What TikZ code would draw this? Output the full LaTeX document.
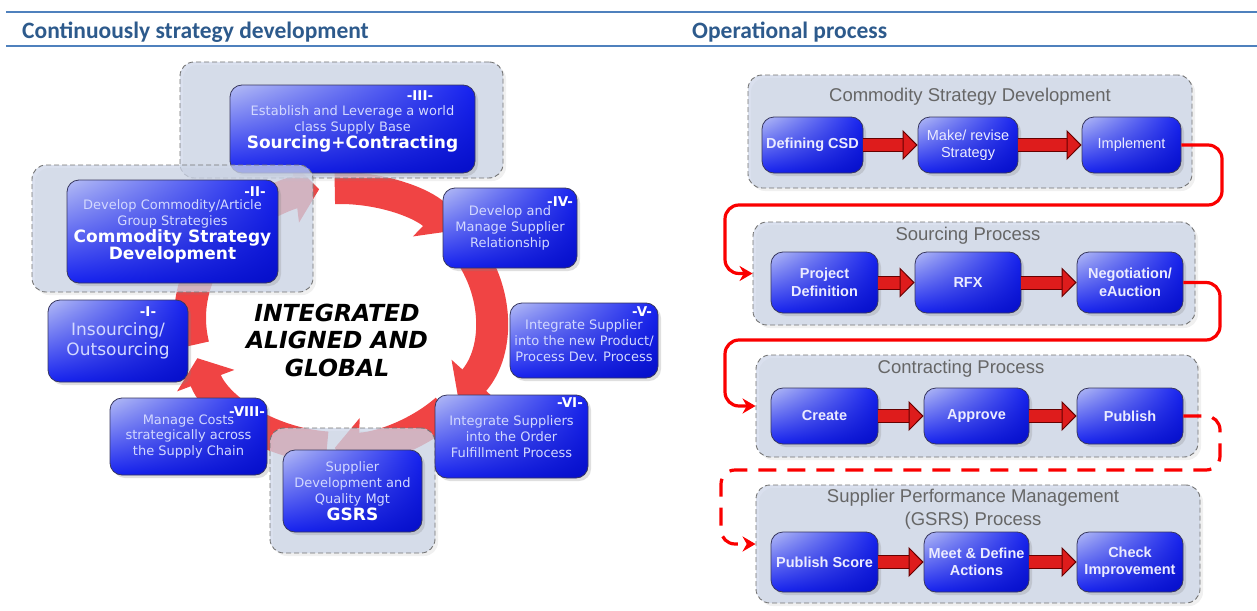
\documentclass[tikz,border=0pt]{standalone}
\usepackage{fontspec}
\usepackage{xcolor}
\usetikzlibrary{arrows.meta,shadows,shadings,calc}
\setmainfont{DejaVu Sans}
\newfontfamily\hdfont{Carlito}
\newfontfamily\arl{Liberation Sans}
\definecolor{hdblue}{RGB}{79,129,189}
\definecolor{hdtext}{RGB}{45,90,140}
\definecolor{ringred}{RGB}{240,68,68}
\definecolor{grpfill}{RGB}{205,214,232}
\definecolor{bxlight}{RGB}{180,188,245}
\definecolor{bxblue}{RGB}{22,34,240}
\definecolor{bxdark}{RGB}{5,14,200}
\definecolor{bxedge}{RGB}{55,55,95}
\definecolor{txlight}{RGB}{210,216,255}
\definecolor{flowred}{RGB}{222,28,28}
\definecolor{linkred}{RGB}{250,0,0}
\newcommand\boxsm{\fontsize{13}{15.8}\selectfont}
\newcommand\boxbig{\fontsize{17}{20}\selectfont\bfseries\color{white}}

\tikzset{
  hdrule/.style={draw=hdblue, line width=2.2pt},
  hd/.style={anchor=base west, inner sep=0pt, text=hdtext,
    font=\hdfont\bfseries\fontsize{23.5}{26}\selectfont},
  ring/.style={draw=ringred, line width=32pt,
    -{Triangle[length=24pt,width=60pt]}},
  grp/.style={rounded corners=14pt, draw=black!55, dash pattern=on 5pt off 3pt,
    line width=0.9pt, fill=grpfill, fill opacity=0.75,
    drop shadow={shadow xshift=3pt, shadow yshift=-3pt, opacity=0.12}},
  cbox/.style={rounded corners=12pt, draw=bxedge, line width=0.8pt,
    shade, upper left=bxlight, upper right=bxblue, lower left=bxblue, lower right=bxdark,
    drop shadow={shadow xshift=3pt, shadow yshift=-3pt, opacity=0.25},
    text=txlight, align=center, inner sep=2pt, font=\boxsm},
  numtag/.style={text=white, font=\bfseries\fontsize{13.5}{15}\selectfont, inner sep=0pt},
  gtitle/.style={text=black!60, font=\arl\fontsize{18.5}{23}\selectfont, align=center, inner sep=0pt},
  pbox/.style={cbox, minimum height=56pt, text=white!92!blue,
    font=\arl\fontsize{14.5}{17.5}\selectfont},
  flow/.style={draw=flowred, line width=12pt,
    -{Triangle[length=15pt,width=30pt,line width=1pt,color=red!40!black,fill=flowred]},
    preaction={draw=red!40!black, line width=14pt, arrows=-, shorten >=14pt}},
  link/.style={draw=linkred, line width=3.2pt, rounded corners=14pt,
    -{Stealth[length=13pt,width=15pt]}}
}

\begin{document}
\begin{tikzpicture}[x=1pt,y=-1pt]
  \useasboundingbox (0,0) rectangle (1257,610);
  \draw[hdrule] (6,12) -- (1257,12);
  \draw[hdrule] (6,46) -- (1257,46);
  \node[hd] (hleft) at (22,38) {Continuously strategy development};
  \node[hd] (hright) at (692,38) {Operational process};

  \coordinate (mid) at (340,318);
  \draw[ring] ($(mid)+(95:150 and 130)$) arc[start angle=95,end angle=162,x radius=150,y radius=130];
  \draw[ring] ($(mid)+(168:150 and 130)$) arc[start angle=168,end angle=262,x radius=150,y radius=130];
  \draw[ring] ($(mid)+(268:150 and 130)$) arc[start angle=268,end angle=318,x radius=150,y radius=130];
  \draw[ring] ($(mid)+(322:150 and 130)$) arc[start angle=322,end angle=398,x radius=150,y radius=130];
  \draw[ring] ($(mid)+(45:150 and 130)$) arc[start angle=45,end angle=92,x radius=150,y radius=130];

  \node[font=\bfseries\itshape\fontsize{23.5}{27.5}\selectfont, align=center] (goal) at (337,340)
    {INTEGRATED\\ALIGNED AND\\GLOBAL};

  \node[grp, minimum width=323pt, minimum height=116pt] (g3) at (341.5,120) {};
  \node[cbox, minimum width=245pt, minimum height=88pt] (b3) at (352.5,129)
    {Establish and Leverage a world\\class Supply Base\\[1pt]\boxbig Sourcing+Contracting};
  \node[grp, minimum width=281pt, minimum height=127pt] (g2) at (172.5,228.5) {};
  \node[cbox, minimum width=211pt, minimum height=103pt] (b2) at (172.5,231.5)
    {Develop Commodity/Article\\Group Strategies\\[1pt]\boxbig Commodity Strategy\\\boxbig Development};
  \node[grp, minimum width=165pt, minimum height=125pt] (g7) at (352.5,490.5) {};
  \node[cbox, minimum width=139pt, minimum height=82pt] (b7) at (352.5,491)
    {Supplier\\Development and\\Quality Mgt\\[1pt]\boxbig GSRS};
  \node[cbox, minimum width=134pt, minimum height=80pt] (b4) at (510,228)
    {Develop and\\Manage Supplier\\Relationship};
  \node[cbox, minimum width=148pt, minimum height=75pt] (b5) at (584,340.5)
    {Integrate Supplier\\into the new Product/\\Process Dev. Process};
  \node[cbox, minimum width=153pt, minimum height=83pt] (b6) at (511.5,436.5)
    {Integrate Suppliers\\into the Order\\Fulfillment Process};
  \node[cbox, minimum width=157pt, minimum height=77pt] (b8) at (188.5,436.5)
    {Manage Costs\\strategically across\\the Supply Chain};
  \node[cbox, minimum width=140pt, minimum height=82pt, font=\fontsize{17}{20.5}\selectfont] (b1) at (118,341)
    {Insourcing/\\Outsourcing};

  \node[numtag] (t1) at (148,312) {-I-};
  \node[numtag] (t2) at (255,192) {-II-};
  \node[numtag] (t3) at (420,96) {-III-};
  \node[numtag] (t4) at (560,202) {-IV-};
  \node[numtag] (t5) at (642,312) {-V-};
  \node[numtag] (t6) at (570,403) {-VI-};
  \node[numtag] (t8) at (247,412) {-VIII-};

  \node[grp, minimum width=444pt, minimum height=113pt] (g10) at (970,131.5) {};
  \node[gtitle] (h10) at (970,97) {Commodity Strategy Development};
  \node[pbox, minimum width=101pt] (p1) at (812.5,145) {\bfseries Defining CSD};
  \node[pbox, minimum width=100pt] (p2) at (968,145) {Make/ revise\\Strategy};
  \node[pbox, minimum width=99pt] (p3) at (1131.5,145) {Implement};
  \draw[flow] (p1) -- (p2);
  \draw[flow] (p2) -- (p3);

  \node[grp, minimum width=442pt, minimum height=103pt] (g20) at (974,273.5) {};
  \node[gtitle] (h20) at (968,236) {Sourcing Process};
  \node[pbox, minimum width=107pt, minimum height=61pt] (p4) at (824.5,282.5) {\bfseries Project\\\bfseries Definition};
  \node[pbox, minimum width=106pt, minimum height=61pt] (p5) at (968,282.5) {\bfseries RFX};
  \node[pbox, minimum width=106pt, minimum height=61pt] (p6) at (1130,282.5) {\bfseries Negotiation/\\\bfseries eAuction};
  \draw[flow] (p4) -- (p5);
  \draw[flow] (p5) -- (p6);

  \node[grp, minimum width=442pt, minimum height=102pt] (g30) at (977,406) {};
  \node[gtitle] (h30) at (961,369) {Contracting Process};
  \node[pbox, minimum width=107pt] (p7) at (824.5,416) {\bfseries Create};
  \node[pbox, minimum width=105pt] (p8) at (976.5,416) {\bfseries Approve};
  \node[pbox, minimum width=106pt] (p9) at (1130,416) {\bfseries Publish};
  \draw[flow] (p7) -- (p8);
  \draw[flow] (p8) -- (p9);

  \node[grp, minimum width=444pt, minimum height=118pt] (g40) at (978,544) {};
  \node[gtitle] (h40) at (973,509) {Supplier Performance Management\\(GSRS) Process};
  \node[pbox, minimum width=107pt, minimum height=60pt] (p10) at (824.5,562) {\bfseries Publish Score};
  \node[pbox, minimum width=105pt, minimum height=60pt] (p11) at (976.5,562) {\bfseries Meet \& Define\\\bfseries Actions};
  \node[pbox, minimum width=106pt, minimum height=60pt] (p12) at (1130,562) {\bfseries Check\\\bfseries Improvement};
  \draw[flow] (p10) -- (p11);
  \draw[flow] (p11) -- (p12);

  \coordinate (r1) at (1222,205);
  \coordinate (l1) at (725,205);
  \draw[link] (p3.east) -| (r1) -- (l1) |- (g20.west);
  \coordinate (r2) at (1220,340);
  \coordinate (l2) at (725,340);
  \draw[link] (p6.east) -| (r2) -- (l2) |- (g30.west);
  \coordinate (r3) at (1220,470);
  \coordinate (l3) at (721,470);
  \draw[link, dash pattern=on 18pt off 11pt] (p9.east) -| (r3) -- (l3) |- (g40.west);
\end{tikzpicture}
\end{document}
